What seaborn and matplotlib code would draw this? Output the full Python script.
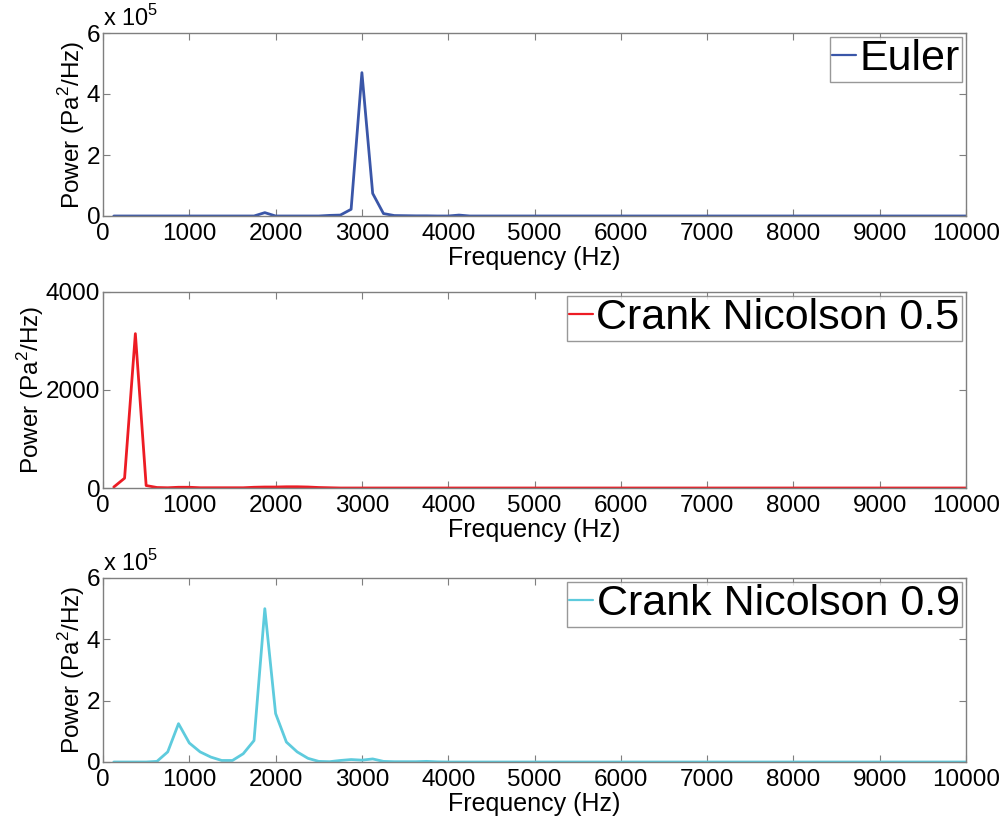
import numpy as np
import pandas as pd
import matplotlib
matplotlib.use("Agg")
import matplotlib.pyplot as plt
import seaborn as sns
from matplotlib.ticker import FuncFormatter

# frequency bins (Hz), 125 Hz spacing
freq = np.arange(125, 10001, 125)

# Euler spectrum (Pa^2/Hz)
euler = [0, 0, 0, 0, 0, 0, 0, 0, 0, 0, 0, 0, 0, 0, 11000, 0,
         0, 0, 0, 0, 2000, 3000, 22000, 470000, 74000, 8000, 1500, 1000, 500, 500,
         0, 0, 3000, 0, 0, 0, 0, 0, 0, 0] + [0] * 40

# Crank Nicolson 0.5 spectrum
cn05 = [20, 200, 3150, 50, 10, 5, 15, 15, 5, 5, 5, 5, 5, 15, 20, 20,
        25, 25, 20, 10, 5, 0, 0, 0, 0, 0, 0, 0, 0, 0] + [0] * 50

# Crank Nicolson 0.9 spectrum
cn09 = [0, 0, 0, 0, 2000, 33000, 125000, 62000, 33000, 16000, 5000, 5000,
        27000, 70000, 500000, 158000, 65000, 33000, 12000, 2000, 1000, 5000,
        8000, 6000, 10000, 2000, 1000, 1000, 1000, 2000, 500, 0] + [0] * 48

series = [
    ("Euler", euler, "#3a56a8", 6e5, [0, 2e5, 4e5, 6e5], True),
    ("Crank Nicolson 0.5", cn05, "#ed1c24", 4000, [0, 2000, 4000], False),
    ("Crank Nicolson 0.9", cn09, "#5ecbdd", 6e5, [0, 2e5, 4e5, 6e5], True),
]

sns.set_style("ticks")
plt.rcParams['font.family'] = ['Liberation Sans', 'DejaVu Sans']
plt.rcParams['mathtext.fontset'] = 'custom'
plt.rcParams['mathtext.rm'] = 'Liberation Sans'
plt.rcParams['text.color'] = 'black'
plt.rcParams['axes.labelcolor'] = 'black'

fig = plt.figure(figsize=(10.05, 8.23), dpi=100)
W, H = 1005, 823
boxes = [(33, 216), (292, 488), (578, 762)]
left, right = 103, 966

for (name, vals, color, ymax, yt, sci), (top, bot) in zip(series, boxes):
    ax = fig.add_axes([left / W, 1 - bot / H, (right - left) / W, (bot - top) / H])
    df = pd.DataFrame({"Frequency": freq, "Power": vals})
    sns.lineplot(data=df, x="Frequency", y="Power", color=color, lw=2.0, ax=ax, label=name)
    ax.set_xlim(0, 10000)
    ax.set_ylim(0, ymax)
    ax.set_xticks(np.arange(0, 10001, 1000))
    ax.set_yticks(yt)
    if sci:
        ax.yaxis.set_major_formatter(FuncFormatter(lambda v, p: f"{v / 1e5:g}"))
        ax.text(0.0, 1.01, r"x 10$^5$", transform=ax.transAxes, fontsize=17,
                ha="left", va="bottom")
    ax.tick_params(direction="in", top=True, right=True, length=5, width=0.8,
                   colors="#7f7f7f", labelcolor="black", labelsize=17.5)
    ax.tick_params(axis="x", pad=5)
    ax.tick_params(axis="y", pad=2)
    for s in ax.spines.values():
        s.set_color("#7f7f7f")
        s.set_linewidth(1)
    ax.set_xlabel("Frequency (Hz)", fontsize=18, labelpad=1)
    ax.set_ylabel(r"Power (Pa$^2$/Hz)", fontsize=17.5, labelpad=0)
    leg = ax.legend(loc="upper right", fontsize=31, handlelength=0.55, handletextpad=0.08,
                    borderpad=0.05, borderaxespad=0.1, fancybox=False, frameon=True)
    leg.get_frame().set_edgecolor("#7f7f7f")
    leg.get_frame().set_linewidth(1)
    for ln in leg.get_lines():
        ln.set_linewidth(1.6)

fig.savefig("out.png", dpi=100, facecolor="white")
